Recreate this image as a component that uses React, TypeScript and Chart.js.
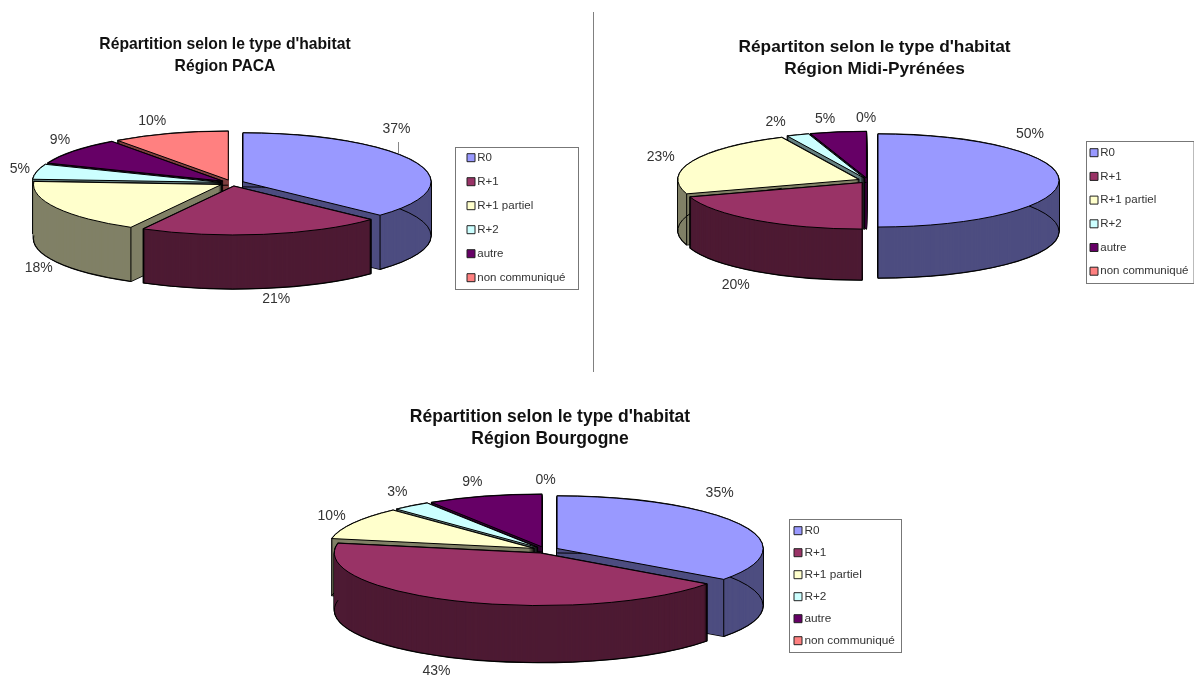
import React, { useEffect, useRef } from "react";
import { Chart, registerables } from "chart.js";

Chart.register(...registerables);

const W = 1194;
const H = 677;
const FONT = '"Liberation Sans", Arial, sans-serif';

// ---- data ----
const categories = ["R0", "R+1", "R+1 partiel", "R+2", "autre", "non communiqué"];
const pacaValues = [37, 21, 18, 5, 9, 10];
const midiValues = [50, 20, 23, 2, 5, 0];
const bourgogneValues = [35, 43, 10, 3, 9, 0];
const pacaTitle = ["Répartition selon le type d'habitat", "Région PACA"];
const midiTitle = ["Répartiton selon le type d'habitat", "Région Midi-Pyrénées"];
const bourgogneTitle = ["Répartition selon le type d'habitat", "Région Bourgogne"];

// ---- styles ----
const topColors = ["#9999FF", "#993366", "#FFFFCC", "#CCFFFF", "#660066", "#FF8080"];
const wallColors = ["#4D4D80", "#4D1A33", "#808066", "#668080", "#330033", "#804040"];

// ---- layout (page pixels) ----
const panels = [
  {
    values: pacaValues, title: pacaTitle, titleX: 225, titleTop: 33.5, titleSize: 15.7,
    cx: 232, cy: 183, r: 188, k: 0.26, explode: 12, depth: 54,
    box: { l: 455, t: 147, r: 578, b: 289 }, swatchX: 467, firstY: 157.7, step: 24, legendSize: 11.5,
    nudges: [[-19, -33], [13, 11], [-18, 6], [-17, -3], [-14, -11], [-18, -12]],
    leader: { x: 398, y0: 142, y1: 153 },
  },
  {
    values: midiValues, title: midiTitle, titleX: 874.5, titleTop: 36, titleSize: 17.3,
    cx: 868, cy: 180.5, r: 181, k: 0.257, explode: 10, depth: 51,
    box: { l: 1086, t: 141, r: 1193.5, b: 283 }, swatchX: 1090, firstY: 152.7, step: 23.7, legendSize: 11.5,
    nudges: [[-29, -46], [-20, 14], [-32, -4], [-22, -13], [-13, -13], [-2, -13.5]],
  },
  {
    values: bourgogneValues, title: bourgogneTitle, titleX: 550, titleTop: 406, titleSize: 17.5,
    cx: 545.5, cy: 550, r: 206, k: 0.255, explode: 13, depth: 57,
    box: { l: 789, t: 519, r: 901, b: 652 }, swatchX: 794, firstY: 530.7, step: 22, legendSize: 11.8,
    nudges: [[-21, -32], [-22, 13], [-22, -7], [-14, -14], [-12, -14], [0, -14]],
  },
];

function slicePath(ctx: any, el: any, p: any, dy: number) {
  ctx.save();
  ctx.translate(p.cx, p.cy + dy);
  ctx.scale(1, p.k);
  ctx.translate(-p.cx, -p.cy);
  ctx.beginPath();
  ctx.moveTo(el.x, el.y);
  ctx.arc(el.x, el.y, el.outerRadius, el.startAngle, el.endAngle);
  ctx.closePath();
  ctx.restore();
}

function rimPath(ctx: any, el: any, p: any, dy: number) {
  ctx.save();
  ctx.translate(p.cx, p.cy + dy);
  ctx.scale(1, p.k);
  ctx.translate(-p.cx, -p.cy);
  ctx.beginPath();
  ctx.arc(el.x, el.y, el.outerRadius, el.startAngle, el.endAngle);
  ctx.restore();
}

const pie3d = {
  id: "pie3d",
  afterLayout(chart: any, _a: any, p: any) {
    chart.chartArea = {
      left: p.cx - p.r, right: p.cx + p.r, top: p.cy - p.r, bottom: p.cy + p.r,
      width: 2 * p.r, height: 2 * p.r,
    };
    const tb = chart.titleBlock;
    tb.left = p.titleX - 300;
    tb.right = p.titleX + 300;
    tb.top = p.titleTop;
    const lg = chart.legend;
    const pad = lg.options.labels.padding;
    lg.left = p.swatchX + 3.5 - pad;
    lg.right = p.box.r;
    lg.top = p.firstY - p.legendSize / 2 - pad;
    lg.bottom = H;
  },
  afterDatasetsUpdate(chart: any, _a: any, p: any) {
    chart.getDatasetMeta(0).data.forEach((el: any) => {
      const mid = (el.startAngle + el.endAngle) / 2;
      el.x += Math.cos(mid) * p.explode;
      el.y += Math.sin(mid) * p.explode;
    });
  },
  beforeDatasetsDraw(chart: any, _a: any, p: any) {
    const ctx = chart.ctx;
    const arcs = chart
      .getDatasetMeta(0)
      .data.map((el: any, i: number) => ({ el, i }))
      .filter((o: any) => o.el.endAngle - o.el.startAngle > 1e-6)
      .sort(
        (a: any, b: any) =>
          Math.sin((a.el.startAngle + a.el.endAngle) / 2) - Math.sin((b.el.startAngle + b.el.endAngle) / 2)
      );
    ctx.save();
    ctx.lineJoin = "round";
    for (const { el, i } of arcs) {
      ctx.strokeStyle = "#000";
      ctx.lineWidth = 1.4;
      for (let d = p.depth; d >= 0; d -= 1) {
        slicePath(ctx, el, p, d);
        ctx.stroke();
      }
      ctx.fillStyle = wallColors[i];
      for (let d = p.depth; d >= 0; d -= 1) {
        slicePath(ctx, el, p, d);
        ctx.fill();
      }
      ctx.lineWidth = 1;
      rimPath(ctx, el, p, p.depth);
      ctx.stroke();
      const yTop = (a: number) => p.cy + (el.y + Math.sin(a) * el.outerRadius - p.cy) * p.k;
      for (const a of [el.startAngle, el.endAngle]) {
        if (Math.sin(a) > 0) {
          const x = el.x + Math.cos(a) * el.outerRadius;
          ctx.beginPath();
          ctx.moveTo(x, yTop(a));
          ctx.lineTo(x, yTop(a) + p.depth);
          ctx.stroke();
        }
      }
    }
    ctx.restore();
  },
  beforeDatasetDraw(chart: any, _a: any, p: any) {
    const ctx = chart.ctx;
    ctx.save();
    ctx.translate(p.cx, p.cy);
    ctx.scale(1, p.k);
    ctx.translate(-p.cx, -p.cy);
  },
  afterDatasetDraw(chart: any) {
    chart.ctx.restore();
  },
  afterDatasetsDraw(chart: any, _a: any, p: any) {
    const ctx = chart.ctx;
    const meta = chart.getDatasetMeta(0);
    ctx.save();
    ctx.strokeStyle = "#000";
    ctx.lineWidth = 1;
    meta.data.forEach((el: any) => {
      if (el.endAngle - el.startAngle > 1e-6) {
        slicePath(ctx, el, p, 0);
        ctx.stroke();
      }
    });
    ctx.font = `14px ${FONT}`;
    ctx.fillStyle = "#333";
    ctx.textAlign = "center";
    ctx.textBaseline = "middle";
    const values = chart.data.datasets[0].data;
    meta.data.forEach((el: any, i: number) => {
      const mid = (el.startAngle + el.endAngle) / 2;
      const dx = Math.cos(mid);
      const dy = Math.sin(mid);
      const ax = el.x + dx * el.outerRadius;
      const ay = p.cy + (el.y + dy * el.outerRadius - p.cy) * p.k + (dy > 0 ? p.depth : 0);
      ctx.fillText(`${values[i]}%`, ax + p.nudges[i][0], ay + p.nudges[i][1]);
    });
    if (p.leader) {
      ctx.strokeStyle = "#888";
      ctx.beginPath();
      ctx.moveTo(p.leader.x + 0.5, p.leader.y0);
      ctx.lineTo(p.leader.x + 0.5, p.leader.y1);
      ctx.stroke();
    }
    ctx.restore();
  },
  afterDraw(chart: any, _a: any, p: any) {
    const ctx = chart.ctx;
    ctx.save();
    ctx.strokeStyle = "#777";
    ctx.lineWidth = 1;
    ctx.strokeRect(p.box.l + 0.5, p.box.t + 0.5, p.box.r - p.box.l, p.box.b - p.box.t);
    ctx.restore();
  },
};

function PieChart({ panel }: { panel: any }) {
  const ref = useRef<HTMLCanvasElement | null>(null);
  useEffect(() => {
    if (!ref.current) return;
    const chart = new Chart(ref.current, {
      type: "pie",
      data: {
        labels: categories,
        datasets: [{
          data: panel.values,
          backgroundColor: topColors,
          borderWidth: 0,
          clip: false,
        } as any],
      },
      options: {
        responsive: false,
        animation: false,
        devicePixelRatio: 1,
        radius: panel.r,
        events: [],
        plugins: {
          tooltip: { enabled: false },
          title: {
            display: true,
            text: panel.title,
            color: "#111",
            font: { family: FONT, size: panel.titleSize, weight: "bold", lineHeight: 22 / panel.titleSize },
            padding: 0,
          },
          legend: {
            display: true,
            position: "right",
            align: "start",
            labels: {
              usePointStyle: true,
              pointStyle: "rect",
              boxWidth: 1,
              boxHeight: 8,
              padding: panel.step - panel.legendSize,
              color: "#333",
              font: { family: FONT, size: panel.legendSize, lineHeight: 1.2 },
              generateLabels(c: any) {
                return (Chart as any).overrides.doughnut.plugins.legend.labels
                  .generateLabels(c)
                  .map((it: any) => ({ ...it, strokeStyle: "#222", lineWidth: 1 }));
              },
            },
          },
          pie3d: panel,
        },
      } as any,
      plugins: [pie3d],
    });
    return () => chart.destroy();
  }, [panel]);
  return (
    <canvas
      ref={ref}
      width={W}
      height={H}
      style={{ position: "absolute", left: 0, top: 0, width: W, height: H }}
    />
  );
}

export default function App() {
  return (
    <div style={{ position: "absolute", left: 0, top: 0, width: W, height: H, overflow: "hidden", background: "#fff" }}>
      <div style={{ position: "absolute", left: 593, top: 12, width: 1, height: 360, background: "#808080" }} />
      {panels.map((p, i) => (
        <PieChart key={i} panel={p} />
      ))}
    </div>
  );
}
